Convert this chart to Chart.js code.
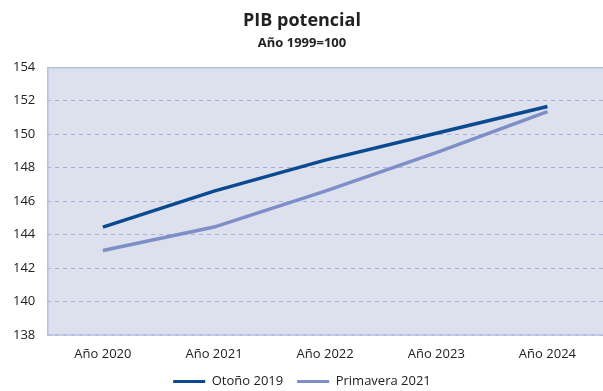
<!DOCTYPE html>
<html>
<head>
<meta charset="utf-8">
<script src="https://cdn.jsdelivr.net/npm/chart.js@4/dist/chart.umd.min.js"></script>
<style>
  html, body { margin: 0; padding: 0; background: #fff; }
  #wrap { width: 603px; height: 391px; }
</style>
</head>
<body>
<div id="wrap"><canvas id="pib-chart" width="603" height="391"></canvas></div>
<script>
// ====== DATOS ======
const years = ["Año 2020", "Año 2021", "Año 2022", "Año 2023", "Año 2024"];
const otono2019 = [144.45, 146.6, 148.45, 150.05, 151.65];
const primavera2021 = [143.05, 144.45, 146.6, 148.9, 151.35];
const yTicks = [138, 140, 142, 144, 146, 148, 150, 152, 154];

const fontFamily = "'Open Sans', 'Noto Sans', sans-serif";

// fondo y borde del área del gráfico
const plotArea = {
  id: "plotArea",
  beforeDraw(chart) {
    const { ctx, chartArea: a } = chart;
    ctx.save();
    ctx.fillStyle = "#dde1ee";
    ctx.fillRect(a.left, a.top, a.right - a.left, a.bottom - a.top);
    ctx.restore();
  },
  afterDatasetsDraw(chart) {
    const { ctx, chartArea: a } = chart;
    ctx.save();
    ctx.strokeStyle = "#b7c0e0";
    ctx.lineWidth = 1.5;
    ctx.beginPath();
    ctx.moveTo(a.right, a.top + 0.5);
    ctx.lineTo(a.left + 0.5, a.top + 0.5);
    ctx.lineTo(a.left + 0.5, a.bottom);
    ctx.lineTo(a.right, a.bottom);
    ctx.stroke();
    ctx.restore();
  }
};

new Chart(document.getElementById("pib-chart").getContext("2d"), {
  type: "line",
  data: {
    labels: years,
    datasets: [
      { label: "Otoño 2019", data: otono2019, borderColor: "#0b4a8e", backgroundColor: "#0b4a8e",
        borderWidth: 3.5, pointRadius: 0, tension: 0, fill: false },
      { label: "Primavera 2021", data: primavera2021, borderColor: "#7e8ec6", backgroundColor: "#7e8ec6",
        borderWidth: 3.5, pointRadius: 0, tension: 0, fill: false }
    ]
  },
  options: {
    responsive: false,
    animation: false,
    layout: { padding: { top: 0, right: 0, left: 1, bottom: -7 } },
    plugins: {
      title: {
        display: true, text: "PIB potencial", color: "#222",
        font: { family: fontFamily, size: 18, weight: "bold" }, padding: { top: 10, bottom: 2 }
      },
      subtitle: {
        display: true, text: "Año 1999=100", color: "#222",
        font: { family: fontFamily, size: 13, weight: "bold" }, padding: { top: 2, bottom: 16 }
      },
      legend: {
        position: "bottom",
        labels: {
          color: "#222", font: { family: fontFamily, size: 13 },
          boxWidth: 32, boxHeight: 3, padding: 14,
          generateLabels(chart) {
            return chart.data.datasets.map((d, i) => ({
              text: d.label, fillStyle: d.borderColor, strokeStyle: d.borderColor,
              lineWidth: 0, datasetIndex: i, fontColor: "#222"
            }));
          }
        }
      },
      tooltip: { enabled: false }
    },
    scales: {
      x: {
        offset: true,
        grid: { display: false, drawTicks: false },
        border: { display: false },
        ticks: { color: "#222", font: { family: fontFamily, size: 13 }, padding: 11 },
        afterFit(scale) { scale.height = 26; }
      },
      y: {
        min: 138, max: 154,
        afterBuildTicks(axis) { axis.ticks = yTicks.map(v => ({ value: v })); },
        grid: { color: "#a8afd8", lineWidth: 1, drawTicks: false },
        border: { display: false, dash: [4, 4] },
        ticks: { color: "#222", font: { family: fontFamily, size: 13 }, padding: 12 }
      }
    }
  },
  plugins: [plotArea]
});
</script>
</body>
</html>
